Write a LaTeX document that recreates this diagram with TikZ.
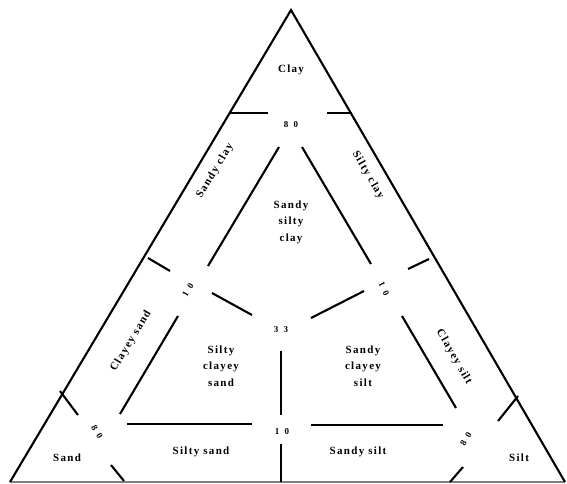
\documentclass[tikz,border=0pt]{standalone}
\usepackage{fontspec}
\setmainfont{Liberation Serif}[LetterSpace=12]
\newfontfamily\numfont{Liberation Serif}[LetterSpace=60]
\begin{document}
\begin{tikzpicture}[x=1pt,y=-1pt,
  seg/.style={line width=2.1pt},
  lab/.style={font=\fontsize{11}{16.5}\selectfont\bfseries, align=center, inner sep=0pt},
  rlab/.style={font=\fontsize{11}{14}\selectfont\bfseries, inner sep=0pt},
  num/.style={font=\fontsize{9}{10}\selectfont\numfont\bfseries, inner sep=0pt}]
\useasboundingbox (0,0) rectangle (567,483);
% vertices
\coordinate (Cl) at (291,10);
\coordinate (Sa) at (10,482);
\coordinate (Si) at (565,482);
% bottom edge (faint)
\draw[gray, line width=1.2pt] (Sa) -- (Si);
% main sides
\draw[seg, line join=miter] (Sa) -- (Cl) -- (Si);
% clay 80 line
\coordinate (c80a) at (230,113); \coordinate (c80b) at (268,113);
\coordinate (c80c) at (327,113); \coordinate (c80d) at (352,113);
\draw[seg] (c80a) -- (c80b);
\draw[seg] (c80c) -- (c80d);
% left inner line (silt 10)
\coordinate (li1) at (279,147); \coordinate (li2) at (208,266);
\coordinate (li3) at (178,316); \coordinate (li4) at (120,414);
\draw[seg] (li1) -- (li2);
\draw[seg] (li3) -- (li4);
% right inner line (sand 10)
\coordinate (ri1) at (302,147); \coordinate (ri2) at (371,264);
\coordinate (ri3) at (402,316); \coordinate (ri4) at (456,408);
\draw[seg] (ri1) -- (ri2);
\draw[seg] (ri3) -- (ri4);
% centre lines
\coordinate (lc1) at (148,258); \coordinate (lc2) at (170,271);
\coordinate (lc3) at (212,293); \coordinate (lc4) at (252,315);
\draw[seg] (lc1) -- (lc2);
\draw[seg] (lc3) -- (lc4);
\coordinate (rc1) at (429,259); \coordinate (rc2) at (408,269);
\coordinate (rc3) at (364,291); \coordinate (rc4) at (311,318);
\draw[seg] (rc1) -- (rc2);
\draw[seg] (rc3) -- (rc4);
\coordinate (v1) at (281,351); \coordinate (v2) at (281,415);
\coordinate (v3) at (281,444); \coordinate (v4) at (281,482);
\draw[seg] (v1) -- (v2);
\draw[seg] (v3) -- (v4);
% clay 10 line
\coordinate (b1) at (127,424); \coordinate (b2) at (252,424);
\coordinate (b3) at (311,425); \coordinate (b4) at (443,425);
\draw[seg] (b1) -- (b2);
\draw[seg] (b3) -- (b4);
% sand 80 line
\coordinate (s1) at (60,391); \coordinate (s2) at (78,415);
\coordinate (s3) at (111,465); \coordinate (s4) at (124,481);
\draw[seg] (s1) -- (s2);
\draw[seg] (s3) -- (s4);
% silt 80 line
\coordinate (t1) at (518,396); \coordinate (t2) at (498,421);
\coordinate (t3) at (463,467); \coordinate (t4) at (450,482);
\draw[seg] (t1) -- (t2);
\draw[seg] (t3) -- (t4);
% labels
\node[lab] (lclay) at (291,70) {Clay};
\node[num] (n80) at (291,125) {80};
\node[rlab, rotate=59] (lsc) at (215,171) {Sandy clay};
\node[rlab, rotate=-60] (lslc) at (368,175) {Silty clay};
\node[lab] (lssc) at (291,222) {Sandy\\silty\\clay};
\node[num, rotate=60] (n10l) at (188,290) {10};
\node[num, rotate=-65] (n10r) at (384,289) {10};
\node[num] (n33) at (281,330) {33};
\node[rlab, rotate=59] (lcs) at (131,341) {Clayey sand};
\node[lab] (lscs) at (221,366) {Silty\\clayey\\sand};
\node[lab] (lsdcs) at (363,366) {Sandy\\clayey\\silt};
\node[rlab, rotate=-60] (lcsi) at (454,357) {Clayey silt};
\node[num] (n10b) at (282,432) {10};
\node[num, rotate=-60] (n80l) at (97,432) {80};
\node[num, rotate=60] (n80r) at (466,439) {80};
\node[lab] (lsand) at (67,458) {Sand};
\node[lab] (lsisa) at (201,452) {Silty sand};
\node[lab] (lsasi) at (358,452) {Sandy silt};
\node[lab] (lsilt) at (519,458) {Silt};
\end{tikzpicture}
\end{document}
